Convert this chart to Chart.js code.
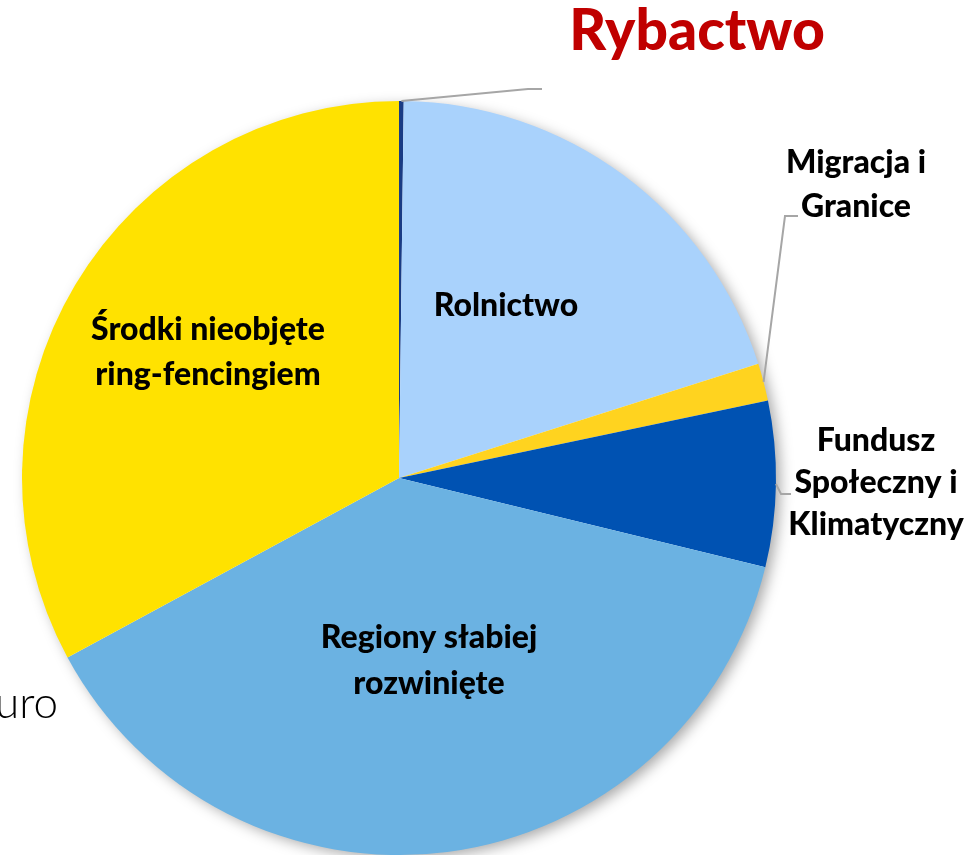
<!DOCTYPE html>
<html lang="pl">
<head>
<meta charset="utf-8">
<title>Rybactwo</title>
<script src="https://cdn.jsdelivr.net/npm/chart.js@4/dist/chart.umd.min.js"></script>
<style>
  html, body { margin: 0; padding: 0; background: #fff; overflow: hidden; }
  #pie { display: block; }
</style>
</head>
<body>
<canvas id="pie" width="979" height="855"></canvas>
<script>
// slices, clockwise from 12 o'clock (share of total, %)
const categories = [
  "Rybactwo",
  "Rolnictwo",
  "Migracja i Granice",
  "Fundusz Społeczny i Klimatyczny",
  "Regiony słabiej rozwinięte",
  "Środki nieobjęte ring-fencingiem"
];
const shares = [0.2, 19.9, 1.6, 7.1, 38.3, 32.9];
const sliceColors = ["#1A3C84", "#A9D2FC", "#FFD31F", "#0052B2", "#6BB2E2", "#FFE200"];

// text drawn on/next to the slices (lines, centre x, first line y, step)
const labels = [
  { lines: ["Rybactwo"], x: 697, y: 32, step: 0, size: 57, color: "#C00000" },
  { lines: ["Rolnictwo"], x: 506, y: 306, step: 0, size: 32, color: "#000" },
  { lines: ["Migracja i", "Granice"], x: 856, y: 163, step: 44, size: 32, color: "#000" },
  { lines: ["Fundusz", "Społeczny i", "Klimatyczny"], x: 876, y: 441, step: 42, size: 32, color: "#000" },
  { lines: ["Regiony słabiej", "rozwinięte"], x: 429, y: 638, step: 46, size: 32, color: "#000" },
  { lines: ["Środki nieobjęte", "ring-fencingiem"], x: 208, y: 330, step: 45, size: 32, color: "#000" }
];

// leader lines: slice index -> elbow and end point
const leaders = [
  { slice: 0, elbow: [528, 89], end: [542, 89] },
  { slice: 2, elbow: [785, 216], end: [798, 216] },
  { slice: 3, elbow: [781, 494], end: [791, 494] }
];

const FONT = "Lato, 'Open Sans', sans-serif";

const pieShadow = {
  id: "pieShadow",
  beforeDatasetsDraw(chart) {
    const arc = chart.getDatasetMeta(0).data[0];
    const ctx = chart.ctx;
    ctx.save();
    ctx.shadowColor = "rgba(0,0,0,0.35)";
    ctx.shadowBlur = 14;
    ctx.shadowOffsetX = 5;
    ctx.shadowOffsetY = 4;
    ctx.fillStyle = "#fff";
    ctx.beginPath();
    ctx.arc(arc.x, arc.y, arc.outerRadius - 1, 0, Math.PI * 2);
    ctx.fill();
    ctx.restore();
  }
};

const sliceText = {
  id: "sliceText",
  afterDatasetsDraw(chart) {
    const ctx = chart.ctx;
    const meta = chart.getDatasetMeta(0);
    ctx.save();

    // leader lines from the middle of the slice's outer edge
    ctx.strokeStyle = "#A6A6A6";
    ctx.lineWidth = 2;
    leaders.forEach((l) => {
      const a = meta.data[l.slice];
      const mid = (a.startAngle + a.endAngle) / 2;
      const sx = a.x + Math.cos(mid) * a.outerRadius;
      const sy = a.y + Math.sin(mid) * a.outerRadius;
      ctx.beginPath();
      ctx.moveTo(sx, sy);
      ctx.lineTo(l.elbow[0], l.elbow[1]);
      ctx.lineTo(l.end[0], l.end[1]);
      ctx.stroke();
    });

    ctx.textAlign = "center";
    ctx.textBaseline = "middle";
    labels.forEach((lb) => {
      ctx.fillStyle = lb.color;
      ctx.font = "900 " + lb.size + "px " + FONT;
      lb.lines.forEach((t, i) => ctx.fillText(t, lb.x, lb.y + i * lb.step));
    });

    // unit text, clipped by the left edge in the original
    ctx.textAlign = "right";
    ctx.textBaseline = "alphabetic";
    ctx.fillStyle = "#000";
    ctx.font = "300 44px " + FONT;
    ctx.fillText("uro", 58, 718);
    ctx.restore();
  }
};

new Chart(document.getElementById("pie"), {
  type: "pie",
  data: {
    labels: categories,
    datasets: [{
      data: shares,
      backgroundColor: sliceColors,
      borderWidth: 0
    }]
  },
  options: {
    responsive: false,
    animation: false,
    layout: { padding: { left: 22, right: 203, top: 101, bottom: 0 } },
    plugins: {
      legend: { display: false },
      tooltip: { enabled: false }
    }
  },
  plugins: [pieShadow, sliceText]
});
</script>
</body>
</html>
